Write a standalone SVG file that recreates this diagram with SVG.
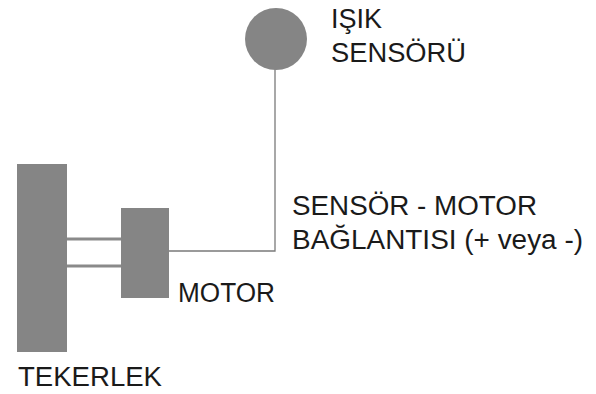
<svg xmlns="http://www.w3.org/2000/svg" width="596" height="394" viewBox="0 0 596 394">
<style>
.part{fill:#858585}
.lbl{font-family:"Liberation Sans",Arial,sans-serif;font-size:27px;fill:#1a1a1a}
.wire{fill:none;stroke:#7a7a7a;stroke-width:1.3}
.axle{stroke:#8a8a8a;stroke-width:3}
</style>
<rect width="596" height="394" fill="#ffffff"/>
<g id="connectors">
<line class="axle" x1="67" y1="239" x2="122" y2="239"/>
<line class="axle" x1="67" y1="266" x2="122" y2="266"/>
<polyline class="wire" points="168,251 275,251 275,68"/>
</g>
<g id="wheel">
<rect class="part" x="17" y="164" width="50" height="188"/>
<text class="lbl" x="18" y="386" textLength="144" lengthAdjust="spacingAndGlyphs">TEKERLEK</text>
</g>
<g id="motor">
<rect class="part" x="121" y="208" width="48" height="90"/>
<text class="lbl" x="178" y="302" textLength="97" lengthAdjust="spacingAndGlyphs">MOTOR</text>
</g>
<g id="sensor">
<circle class="part" cx="276" cy="39" r="31"/>
<text class="lbl" x="331" y="28">IŞIK</text>
<text class="lbl" x="331" y="62" textLength="135" lengthAdjust="spacingAndGlyphs">SENSÖRÜ</text>
</g>
<g id="connection-label">
<text class="lbl" x="292" y="215" textLength="245" lengthAdjust="spacingAndGlyphs">SENSÖR - MOTOR</text>
<text class="lbl" x="292" y="249" textLength="291" lengthAdjust="spacingAndGlyphs">BAĞLANTISI (+ veya -)</text>
</g>
</svg>
